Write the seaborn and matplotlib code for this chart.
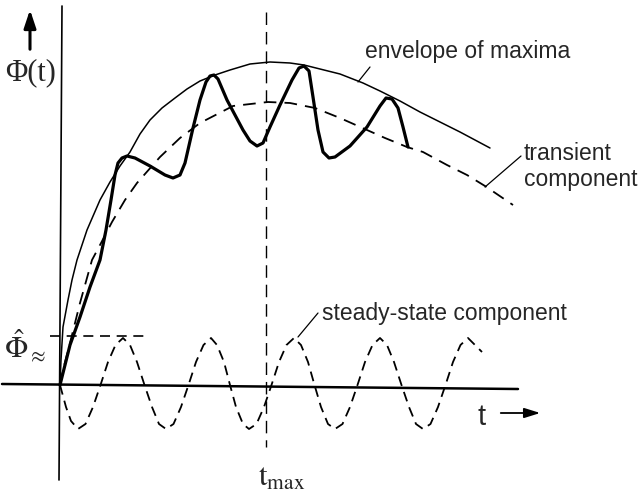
import matplotlib
matplotlib.use("Agg")
import matplotlib.pyplot as plt
import seaborn as sns
import numpy as np

# ---- data (t, Φ); origin at the axes crossing ----
res_t = [0, 5, 10, 20, 30, 40, 46, 51, 55, 58, 62, 67, 75, 90, 105, 113, 120, 125, 133, 140, 146, 150, 154,
         158, 167, 183, 190, 197, 203, 210, 220, 232, 239, 244, 249, 253, 258, 263, 269, 275, 290, 307, 320,
         326, 332, 338, 343, 348]
res_y = [0, 20, 40, 68, 98, 125, 155, 185, 210, 222, 227, 229, 227, 219, 210, 207, 210, 222, 257, 285, 303,
         309, 310, 306, 285, 255, 244, 239, 242, 258, 280, 305, 317, 319, 314, 288, 255, 233, 227, 228, 239,
         258, 279, 287, 286, 277, 258, 238]

env_t = [0, 1, 3, 8, 12, 17, 27, 40, 50, 60, 70, 80, 90, 102, 115, 127, 140, 155, 170, 190, 210, 230, 244,
         260, 280, 303, 320, 340, 360, 380, 400, 430]
env_y = [0, 25, 58, 85, 105, 125, 155, 185, 203, 219, 233, 251, 265, 277, 287, 296, 304, 310, 315, 321, 323,
         322, 320, 316, 311, 302, 294, 284, 273, 263, 253, 237]

tr_t = [0, 3, 10, 20, 32, 40, 52, 65, 77, 100, 120, 140, 173, 208, 230, 255, 280, 307, 325, 347, 363, 387,
        407, 425, 453]
tr_y = [0, 15, 42, 82, 125, 140, 163, 185, 202, 228, 247, 262, 279, 283, 282, 277, 267, 255, 247, 238, 233,
        220, 210, 199, 180]

ss_t = [0, 6, 11, 18, 25.5, 33, 40.5, 48, 55.5, 63, 70, 77, 84.5, 92, 99, 106, 113.5, 121, 128.5, 136, 143.5,
        151, 157, 164, 170, 176, 183, 189, 196.5, 204, 211.5, 219, 226.5, 234, 241, 248, 254.5, 261, 268, 275,
        282.5, 290, 297.5, 305, 312.5, 320, 327, 334, 341.5, 349, 356, 363, 370.5, 378, 385.5, 393, 400.5,
        408, 415, 422]
ss_y = [0, -22, -36, -44, -39, -22, 0, 23, 40, 47, 40, 23, 0, -22, -39, -44, -39, -22, 0, 23, 40, 47, 40, 23,
        0, -22, -39, -44, -39, -22, 0, 23, 40, 47, 40, 23, 0, -22, -39, -44, -39, -22, 0, 23, 40, 47, 40, 23,
        0, -22, -39, -44, -39, -22, 0, 23, 40, 47, 40, 33]

amp_level = 49          # Φ̂≈ level
t_max = 206             # position of t_max
labels = ["envelope of maxima", "transient\ncomponent", "steady-state component"]

# ---- figure ----
sns.set_theme(style="white")
fig = plt.figure(figsize=(6.39, 4.98), dpi=100)
ax = fig.add_axes([0, 0, 1, 1])
ax.set_xlim(-60, 579)
ax.set_ylim(-113, 385)
ax.set_axis_off()

k = dict(sort=False, estimator=None, color="black", ax=ax, legend=False)

# axes of the sketch
sns.lineplot(x=[-58, 458], y=[1, -4], lw=1.8, **k)
sns.lineplot(x=[2, -1], y=[379, -95], lw=1.2, **k)

# curves
sns.lineplot(x=env_t, y=env_y, lw=1.1, **k)
l_tr = sns.lineplot(x=tr_t, y=tr_y, lw=1.3, **k).lines[-1]
l_tr.set_dashes((7, 4.5))
l_ss = sns.lineplot(x=ss_t, y=ss_y, lw=1.3, **k).lines[-1]
l_ss.set_dashes((5.5, 3.5))
sns.lineplot(x=res_t, y=res_y, lw=2.3, **k)

# amplitude dashed level
l_a = sns.lineplot(x=[-10, 90], y=[amp_level, amp_level], lw=1.2, **k).lines[-1]
l_a.set_dashes((6, 4))

# t_max dashed vertical
l_v = sns.lineplot(x=[t_max, t_max], y=[373, -62], lw=1.0, **k).lines[-1]
l_v.set_dashes((9, 5))

# leader lines
sns.lineplot(x=[298, 310], y=[303, 318], lw=0.9, **k)
sns.lineplot(x=[425, 461], y=[198, 229], lw=0.9, **k)
sns.lineplot(x=[238, 258], y=[48, 72], lw=0.9, **k)

# arrows
ax.annotate("", xy=(-30, 378), xytext=(-30, 333),
            arrowprops=dict(arrowstyle="-|>,head_length=0.9,head_width=0.3", lw=2.2, color="black"))
ax.annotate("", xy=(483, -28), xytext=(438, -28),
            arrowprops=dict(arrowstyle="-|>,head_length=0.8,head_width=0.25", lw=1.3, color="black"))

# texts
plt.rcParams["mathtext.fontset"] = "stix"
ax.text(-29, 312, "Φ(t)", fontsize=22, family="Liberation Serif", ha="center", va="center")
ax.text(-56, 40, r"$\hat{\Phi}_{\approx}$", fontsize=22, ha="left", va="center")
ax.text(222, -92, r"$\mathrm{t}_{\mathrm{max}}$", fontsize=22, ha="center", va="center")
ax.text(418, -32, "t", fontsize=21, family="Liberation Sans", ha="left", va="center")

sans = "Liberation Sans"
ax.text(305, 327, labels[0], fontsize=16.5, family=sans, ha="left", va="baseline")
ax.text(464, 199, labels[1], fontsize=16.5, family=sans, ha="left", va="baseline", linespacing=1.15)
ax.text(262, 65, labels[2], fontsize=16.5, family=sans, ha="left", va="baseline")

fig.savefig("out.png", dpi=100, facecolor="white")
